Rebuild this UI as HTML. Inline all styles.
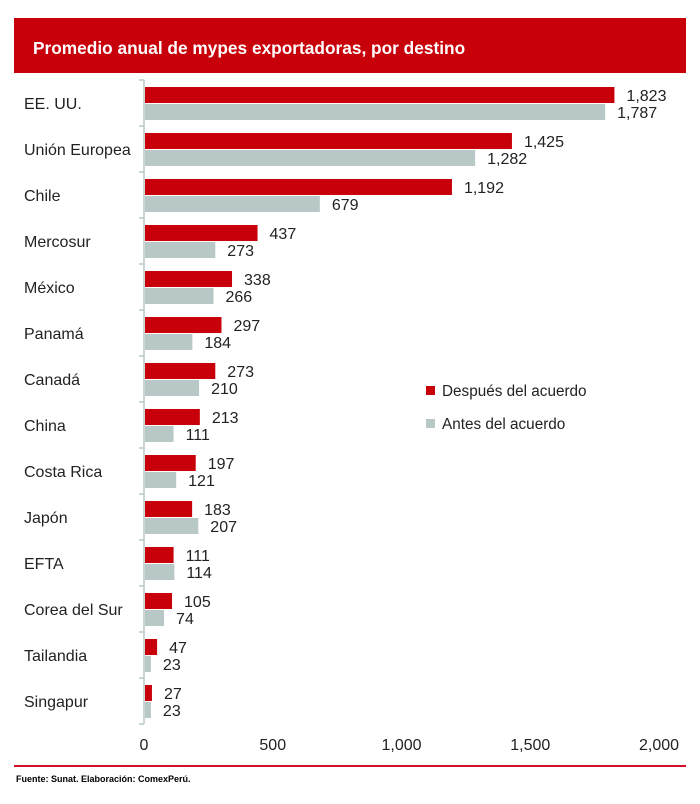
<!DOCTYPE html>
<html><head><meta charset="utf-8"><style>
body{margin:0;background:#fff;width:700px;height:799px;overflow:hidden;font-family:"Liberation Sans",Arial,sans-serif}
svg text{font-family:"Liberation Sans",Arial,sans-serif}
</style></head><body>
<svg width="700" height="799" id="svg">
<rect x="14" y="18" width="672" height="55" fill="#c8000a"/>
<text x="33" y="54" fill="#fff" font-size="17.3" font-weight="bold">Promedio anual de mypes exportadoras, por destino</text>
<line x1="14" y1="766" x2="686" y2="766" stroke="#d3102a" stroke-width="2"/>
<text x="16" y="782" font-size="9" font-weight="bold" fill="#000">Fuente: Sunat. Elaboración: ComexPerú.</text>
<g id="plot"></g>
<rect x="426" y="386" width="9" height="9" fill="#c8000a"/>
<text x="442" y="396" font-size="15.3" fill="#222">Después del acuerdo</text>
<rect x="426" y="419" width="9" height="9" fill="#b8c8c6"/>
<text x="442" y="429" font-size="15.3" fill="#222">Antes del acuerdo</text>
</svg>
<script>
const categories=["EE. UU.","Unión Europea","Chile","Mercosur","México","Panamá","Canadá","China","Costa Rica","Japón","EFTA","Corea del Sur","Tailandia","Singapur"];
const despues=[1823,1425,1192,437,338,297,273,213,197,183,111,105,47,27];
const antes=[1787,1282,679,273,266,184,210,111,121,207,114,74,23,23];
const ticks=[0,500,1000,1500,2000];
const NS="http://www.w3.org/2000/svg";
const g=document.getElementById('plot');
const x0=145,scale=515/2000,top0=80,rowH=46;
const xs=v=>x0+v*scale;
const fmt=v=>v.toLocaleString('en-US');
function mk(t,a,txt){const e=document.createElementNS(NS,t);for(const k in a)e.setAttribute(k,a[k]);if(txt!=null)e.textContent=txt;g.appendChild(e);return e;}
let ax=mk('line',{x1:144,y1:top0,x2:144,y2:top0+rowH*categories.length,stroke:'#b8c8c6','stroke-width':1.5});


for(let i=0;i<=categories.length;i++){
 const t=mk('line',{x1:139,x2:144,y1:top0+i*rowH,y2:top0+i*rowH,stroke:'#b8c8c6','stroke-width':1.5});
 
 
}
categories.forEach((c,i)=>{
 const y=top0+i*rowH;
 const l=mk('text',{x:24,y:y+29,'font-size':16,fill:'#222'},c);
 
 
 const r=mk('rect',{x:x0,y:y+7,width:xs(despues[i])-x0,height:16,fill:'#c8000a'});
 
 
 const b=mk('rect',{x:x0,y:y+24,width:xs(antes[i])-x0,height:16,fill:'#b8c8c6'});
 
 
 const t1=mk('text',{x:xs(despues[i])+12,y:y+21,'font-size':16,fill:'#222'},fmt(despues[i]));
 
 
 const t2=mk('text',{x:xs(antes[i])+12,y:y+38,'font-size':16,fill:'#222'},fmt(antes[i]));
 
 
});
ticks.forEach(v=>{
 const t=mk('text',{x:xs(v)-1,y:750,'font-size':16,fill:'#222','text-anchor':'middle'},fmt(v));
 
 
});
</script>
</body></html>
